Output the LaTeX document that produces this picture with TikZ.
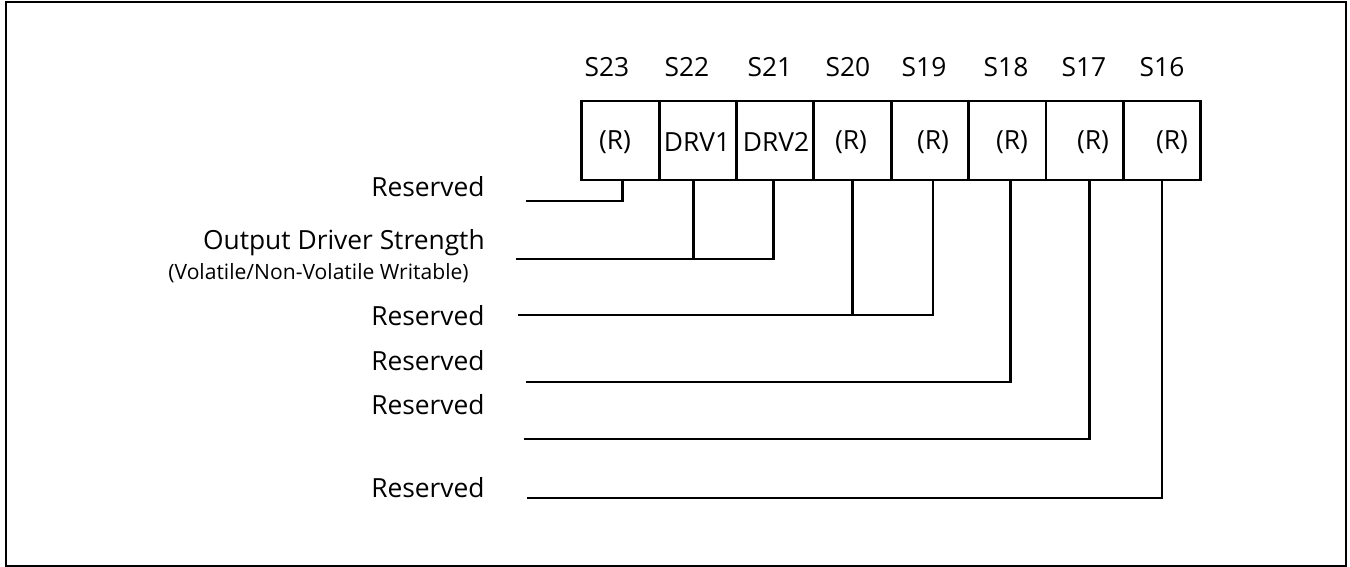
\documentclass[tikz,border=0pt]{standalone}
\usepackage{fontspec}
\setmainfont{Open Sans}
\usetikzlibrary{calc}
\tikzset{
  cell/.style = {draw, rectangle, minimum width = 1.5475cm, minimum height = 1.58cm, inner sep = 0pt, outer sep = 0pt, line width = 1.6pt},
  wire/.style = {line width = 1.6pt},
  lbl/.style = {anchor = east, inner sep = 0pt},
  bit/.style = {inner sep = 0pt},
}

\begin{document}
\begin{tikzpicture}[x = 0.02cm, y = -0.02cm, font = {\fontsize{15pt}{17}\selectfont}]
\useasboundingbox (0,0) rectangle (1350,567);
\draw[line width = 1.3pt] (6,2) rectangle (1346,566);

% register cells S23 .. S16
\node[cell] (C23) at (620.4, 140.5) {};
\node[cell] (C22) at (697.8, 140.5) {};
\node[cell] (C21) at (775.1, 140.5) {};
\node[cell] (C20) at (852.5, 140.5) {};
\node[cell] (C19) at (929.9, 140.5) {};
\node[cell] (C18) at (1007.3, 140.5) {};
\node[cell] (C17) at (1084.6, 140.5) {};
\node[cell] (C16) at (1162, 140.5) {};

\node[bit] (T23) at (615, 142) {(R)};
\node[bit] (T22) at (697, 142) {DRV1};
\node[bit] (T21) at (776, 142) {DRV2};
\node[bit] (T20) at (851, 142) {(R)};
\node[bit] (T19) at (933, 142) {(R)};
\node[bit] (T18) at (1012, 142) {(R)};
\node[bit] (T17) at (1093, 142) {(R)};
\node[bit] (T16) at (1172, 142) {(R)};

% bit numbers
\node[bit] (H23) at (607, 67) {S23};
\node[bit] (H22) at (687, 67) {S22};
\node[bit] (H21) at (770, 67) {S21};
\node[bit] (H20) at (848, 67) {S20};
\node[bit] (H19) at (924, 67) {S19};
\node[bit] (H18) at (1006, 67) {S18};
\node[bit] (H17) at (1084, 67) {S17};
\node[bit] (H16) at (1162, 67) {S16};

% field names
\node[lbl] (R23) at (485, 187) {Reserved};
\node[lbl] (ODS) at (485, 243) {Output Driver Strength};
\node[lbl, font = {\fontsize{12pt}{14}\selectfont}] (ODSsub) at (469, 273) {(Volatile/Non-Volatile Writable)};
\node[lbl] (R20) at (485, 316) {Reserved};
\node[lbl] (R18) at (485, 361) {Reserved};
\node[lbl] (R17) at (485, 405) {Reserved};
\node[lbl] (R16) at (485, 488) {Reserved};

\coordinate (E23) at (526, 201);
\coordinate (E22) at (516, 259);
\coordinate (E20) at (518, 315);
\coordinate (E18) at (526, 382);
\coordinate (E17) at (524, 439);
\coordinate (E16) at (527, 498);
\coordinate (B22) at ($(C22.south)+(-4,0)$);

\draw[wire] ($(C23.south)+(2,0)$) |- (E23);
\draw[wire] ($(C21.south)+(-2,0)$) |- (E22);
\draw[wire] (B22) -- (B22 |- E22);
\draw[wire] ($(C19.south)+(3,0)$) |- (E20);
\draw[wire] (C20.south) -- (C20.south |- E20);
\draw[wire] ($(C18.south)+(3,0)$) |- (E18);
\draw[wire] ($(C17.south)+(5,0)$) |- (E17);
\draw[wire] (C16.south) |- (E16);
\end{tikzpicture}
\end{document}
